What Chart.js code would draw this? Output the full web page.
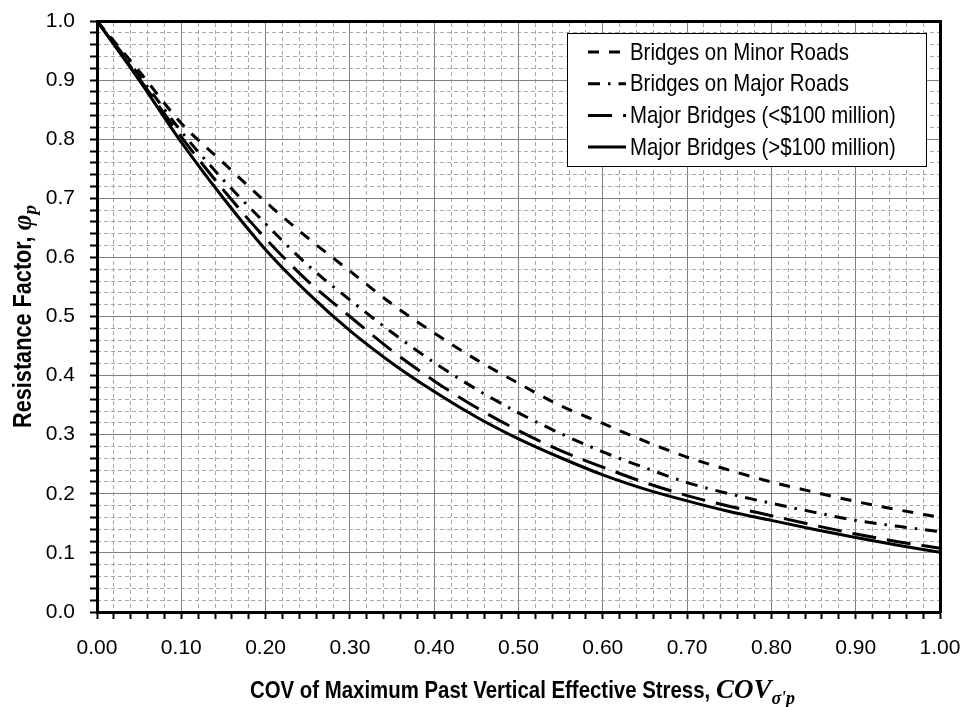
<!DOCTYPE html>
<html>
<head>
<meta charset="utf-8">
<script src="https://cdn.jsdelivr.net/npm/chart.js@4.4.1/dist/chart.umd.min.js"></script>
<style>
  html, body { margin: 0; padding: 0; background: #fff; }
  #wrap { width: 962px; height: 707px; }
</style>
</head>
<body>
<div id="wrap"><canvas id="phiChart"></canvas></div>
<script>
// COV of maximum past vertical effective stress
const covLevels = [0, 0.05, 0.10, 0.15, 0.20, 0.25, 0.30, 0.35, 0.40, 0.45, 0.50,
                   0.55, 0.60, 0.65, 0.70, 0.75, 0.80, 0.85, 0.90, 0.95, 1.00];
// resistance factor per bridge class
const minorRoads   = [1.0, 0.915, 0.827, 0.760, 0.694, 0.633, 0.577, 0.521, 0.472, 0.427, 0.387,
                      0.349, 0.319, 0.289, 0.262, 0.240, 0.220, 0.203, 0.187, 0.173, 0.160];
const majorRoads   = [1.0, 0.908, 0.813, 0.731, 0.657, 0.587, 0.528, 0.473, 0.422, 0.377, 0.337,
                      0.302, 0.271, 0.244, 0.219, 0.200, 0.184, 0.169, 0.155, 0.145, 0.136];
const majorUnder100 = [1.0, 0.903, 0.804, 0.714, 0.632, 0.560, 0.500, 0.442, 0.391, 0.346, 0.307,
                      0.273, 0.245, 0.219, 0.197, 0.179, 0.163, 0.147, 0.132, 0.119, 0.108];
const majorOver100 = [1.0, 0.900, 0.795, 0.700, 0.613, 0.540, 0.476, 0.421, 0.373, 0.330, 0.293,
                      0.261, 0.232, 0.208, 0.188, 0.170, 0.155, 0.140, 0.126, 0.113, 0.101];
const seriesNames = ['Bridges on Minor Roads', 'Bridges on Major Roads',
                     'Major Bridges (<$100 million)', 'Major Bridges (>$100 million)'];

// grid steps: minor every 0.02, labelled every 0.1
const gridSteps = [];
for (let i = 0; i <= 50; i++) gridSteps.push(+(i * 0.02).toFixed(2));

const SANS = "'Liberation Sans', Arial, sans-serif";
const SERIF = "'Liberation Serif', 'Times New Roman', serif";
const SQUEEZE = 0.85; // the original uses a narrow face

const pts = arr => covLevels.map((x, i) => ({x: x, y: arr[i]}));

const dashes = [[11, 10], [12, 8, 2.5, 8], [24, 11], []];
const datasets = [minorRoads, majorRoads, majorUnder100, majorOver100].map((arr, i) => ({
  label: seriesNames[i],
  data: pts(arr),
  borderColor: '#000',
  borderWidth: 3,
  borderDash: dashes[i],
  borderCapStyle: 'butt',
  pointRadius: 0,
  cubicInterpolationMode: 'monotone',
  fill: false,
  xAxisID: 'x',
  yAxisID: 'y'
}));

const setSteps = s => { s.ticks = gridSteps.map(v => ({value: v})); };
const majorGrid = c => (c.index % 5 === 0 ? '#808080' : 'rgba(0,0,0,0)');
const minorGrid = c => (c.index % 5 === 0 ? 'rgba(0,0,0,0)' : '#a8a8a8');
// fixed axis sizes so the plot area lands where the original has it
const fixSize = (w, h) => s => {
  if (w != null) s.width = w;
  if (h != null) s.height = h;
  s.paddingLeft = s.paddingRight = s.paddingTop = s.paddingBottom = 0;
};

// draws a run of text pieces (different fonts) squeezed horizontally
function textRun(ctx, parts){
  let w = 0;
  parts.forEach(p => { ctx.font = p.f; p.w = ctx.measureText(p.t).width * (p.sx || 1); w += p.w; });
  return {width: w, draw(x0){
    let x = x0;
    parts.forEach(p => {
      ctx.save();
      ctx.translate(x, p.dy || 0);
      ctx.scale(p.sx || 1, 1);
      ctx.font = p.f;
      ctx.fillText(p.t, 0, 0);
      ctx.restore();
      x += p.w;
    });
  }};
}

const titlesAndLegend = {
  id: 'titlesAndLegend',
  afterDraw(chart){
    const ctx = chart.ctx;
    const area = chart.chartArea;
    ctx.save();
    ctx.fillStyle = '#000';
    ctx.textBaseline = 'alphabetic';

    // x axis title
    ctx.save();
    ctx.translate(0, 698);
    const xr = textRun(ctx, [
      {t: 'COV of Maximum Past Vertical Effective Stress, ', f: 'bold 24px ' + SANS, sx: SQUEEZE},
      {t: 'COV', f: 'bold italic 27px ' + SERIF},
      {t: "\u03c3'p", f: 'bold italic 18px ' + SERIF, dy: 6}
    ]);
    xr.draw((area.left + area.right) / 2 - xr.width / 2 + 4);
    ctx.restore();

    // y axis title, rotated, centred on the plot
    ctx.save();
    ctx.translate(31, (area.top + area.bottom) / 2);
    ctx.rotate(-Math.PI / 2);
    const yr = textRun(ctx, [
      {t: 'Resistance Factor, ', f: 'bold 25.5px ' + SANS, sx: SQUEEZE},
      {t: '\u03c6', f: 'bold italic 27px ' + SERIF},
      {t: 'p', f: 'bold italic 19px ' + SERIF, dy: 5}
    ]);
    yr.draw(-yr.width / 2);
    ctx.restore();
    ctx.restore();

    // legend box inside the plot
    ctx.save();
    const bx = 567, by = 33, bw = 359, bh = 133;
    ctx.fillStyle = '#fff';
    ctx.fillRect(bx, by, bw, bh);
    ctx.strokeStyle = '#000';
    ctx.lineWidth = 1;
    ctx.strokeRect(bx + 0.5, by + 0.5, bw, bh);
    ctx.textBaseline = 'middle';
    chart.data.datasets.forEach((ds, i) => {
      const ry = by + 19 + i * 31.7;
      ctx.strokeStyle = ds.borderColor;
      ctx.lineWidth = ds.borderWidth;
      ctx.setLineDash(ds.borderDash);
      ctx.beginPath();
      ctx.moveTo(588, ry);
      ctx.lineTo(626, ry);
      ctx.stroke();
      ctx.setLineDash([]);
      ctx.fillStyle = '#000';
      ctx.save();
      ctx.translate(630, ry + 1);
      textRun(ctx, [{t: ds.label, f: '24px ' + SANS, sx: SQUEEZE}]).draw(0);
      ctx.restore();
    });
    ctx.restore();
  }
};

new Chart(document.getElementById('phiChart'), {
  type: 'line',
  data: {datasets: datasets},
  options: {
    responsive: true,
    maintainAspectRatio: false,
    animation: false,
    layout: {padding: 0},
    plugins: {legend: {display: false}, tooltip: {enabled: false}},
    scales: {
      x: {
        type: 'linear', position: 'bottom', min: 0, max: 1,
        afterBuildTicks: setSteps,
        afterFit: fixSize(null, 95),
        ticks: {
          autoSkip: false, maxRotation: 0, padding: 17, color: '#000',
          font: {family: SANS, size: 21},
          callback: (v, i) => (i % 5 === 0 ? v.toFixed(2) : '')
        },
        grid: {color: majorGrid, lineWidth: 1, tickLength: 7, tickColor: '#000', tickWidth: 2},
        border: {color: '#000', width: 3}
      },
      xMinor: {
        type: 'linear', position: 'top', min: 0, max: 1,
        afterBuildTicks: setSteps,
        afterFit: fixSize(null, 21),
        ticks: {display: false},
        grid: {color: minorGrid, lineWidth: 1, drawTicks: false},
        border: {color: '#000', width: 3, dash: [4, 3]}
      },
      y: {
        type: 'linear', position: 'left', min: 0, max: 1,
        afterBuildTicks: setSteps,
        afterFit: fixSize(97, null),
        ticks: {
          autoSkip: false, padding: 15, color: '#000',
          font: {family: SANS, size: 21},
          callback: (v, i) => (i % 5 === 0 ? v.toFixed(1) : '')
        },
        grid: {color: majorGrid, lineWidth: 1, tickLength: 7, tickColor: '#000', tickWidth: 2},
        border: {color: '#000', width: 3}
      },
      yMinor: {
        type: 'linear', position: 'right', min: 0, max: 1,
        afterBuildTicks: setSteps,
        afterFit: fixSize(22, null),
        ticks: {display: false},
        grid: {color: minorGrid, lineWidth: 1, drawTicks: false},
        border: {color: '#000', width: 3, dash: [4, 3]}
      }
    }
  },
  plugins: [titlesAndLegend]
});
</script>
</body>
</html>
